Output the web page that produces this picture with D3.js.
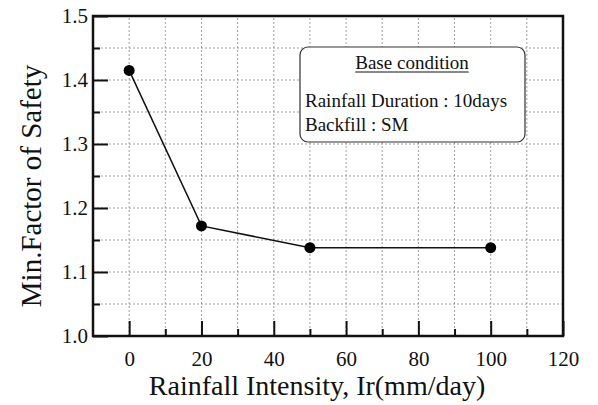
<!DOCTYPE html>
<html>
<head>
<meta charset="utf-8" />
<script src="https://d3js.org/d3.v7.min.js"></script>
<style>
    body { margin: 0; background: white; }
    svg text { font-family: "Liberation Serif", "Times New Roman", serif; fill: #111; }
    .grid line { stroke: #888; stroke-width: 0.8; stroke-dasharray: 2, 2; }
</style>
</head>
<body>
<svg id="chart" width="598" height="405"></svg>
<script>
    // values
    let intensity = [0, 20, 50, 100];
    let minFS = [1.415, 1.172, 1.138, 1.138];
    let xTicks = [0, 20, 40, 60, 80, 100, 120];
    let yTicks = [1.0, 1.1, 1.2, 1.3, 1.4, 1.5];
    let legendLines = ["Rainfall Duration : 10days", "Backfill : SM"];

    let margin = { left: 93, top: 16, right: 35, bottom: 69 };
    let W = 598, H = 405;

    let svg = d3.select("#chart");

    let x = d3.scaleLinear().domain([-10, 120]).range([margin.left, W - margin.right]);
    let y = d3.scaleLinear().domain([1.0, 1.5]).range([H - margin.bottom, margin.top]);

    let minorX = d3.range(-10, 121, 10);
    let minorY = d3.range(1.0, 1.501, 0.05);

    // dotted grid
    let grid = svg.append("g").attr("class", "grid");
    grid.selectAll(".vx").data(minorX.slice(1, -1)).enter().append("line")
        .attr("x1", d => x(d)).attr("x2", d => x(d))
        .attr("y1", y(1.0)).attr("y2", y(1.5));
    grid.selectAll(".hy").data(minorY.slice(1, -1)).enter().append("line")
        .attr("y1", d => y(d)).attr("y2", d => y(d))
        .attr("x1", x(-10)).attr("x2", x(120));

    // axes with inward ticks
    let xAxis = d3.axisBottom(x).tickValues(xTicks).tickSize(-15).tickPadding(15).tickFormat(d3.format("d"));
    let xMinor = d3.axisBottom(x).tickValues(d3.range(10, 120, 20)).tickSize(-7).tickFormat("");
    let yAxis = d3.axisLeft(y).tickValues(yTicks).tickSize(-15).tickPadding(5).tickFormat(d3.format(".1f"));
    let yMinor = d3.axisLeft(y).tickValues(d3.range(1.05, 1.5, 0.1)).tickSize(-7).tickFormat("");

    function styleAxis(g) {
        g.attr("font-family", null);
        g.select(".domain").remove();
        g.selectAll(".tick line").attr("stroke", "#111").attr("stroke-width", 2);
        g.selectAll(".tick text")
            .style("font-family", '"Liberation Serif", serif')
            .style("font-size", "21px");
    }

    svg.append("g").attr("transform", "translate(0," + y(1.0) + ")").call(xAxis).call(styleAxis);
    svg.append("g").attr("transform", "translate(0," + y(1.0) + ")").call(xMinor).call(styleAxis);
    svg.append("g").attr("transform", "translate(" + x(-10) + ",0)").call(yAxis).call(styleAxis);
    svg.append("g").attr("transform", "translate(" + x(-10) + ",0)").call(yMinor).call(styleAxis);

    // frame
    svg.append("rect")
        .attr("x", x(-10)).attr("y", y(1.5))
        .attr("width", x(120) - x(-10)).attr("height", y(1.0) - y(1.5))
        .attr("fill", "none").attr("stroke", "#111").attr("stroke-width", 2.5);

    // data line and markers
    let line = d3.line().x((d, i) => x(intensity[i])).y(d => y(d));
    svg.append("path").datum(minFS)
        .attr("d", line).attr("fill", "none").attr("stroke", "#111").attr("stroke-width", 1.5);
    svg.selectAll(".pt").data(minFS).enter().append("circle")
        .attr("cx", (d, i) => x(intensity[i])).attr("cy", d => y(d))
        .attr("r", 5.5).attr("fill", "#000");

    // legend box
    let lg = svg.append("g");
    lg.append("rect").attr("x", 300).attr("y", 47).attr("width", 225).attr("height", 95)
        .attr("rx", 8).attr("fill", "white").attr("stroke", "#333").attr("stroke-width", 1.2);
    let title = lg.append("text").attr("x", 412).attr("y", 69).attr("text-anchor", "middle")
        .style("font-size", "19px").text("Base condition");
    let tw = title.node().getComputedTextLength();
    lg.append("line").attr("x1", 412 - tw / 2).attr("x2", 412 + tw / 2)
        .attr("y1", 72).attr("y2", 72).attr("stroke", "#111").attr("stroke-width", 1);
    lg.selectAll(".ll").data(legendLines).enter().append("text")
        .attr("x", 305).attr("y", (d, i) => 107 + i * 24)
        .style("font-size", "19px").text(d => d);

    // axis titles
    svg.append("text").attr("x", 317).attr("y", 395).attr("text-anchor", "middle")
        .style("font-size", "28px").text("Rainfall Intensity, Ir(mm/day)");
    svg.append("text").attr("transform", "translate(41,186) rotate(-90)")
        .attr("text-anchor", "middle").style("font-size", "29px").text("Min.Factor of Safety");
</script>
</body>
</html>
